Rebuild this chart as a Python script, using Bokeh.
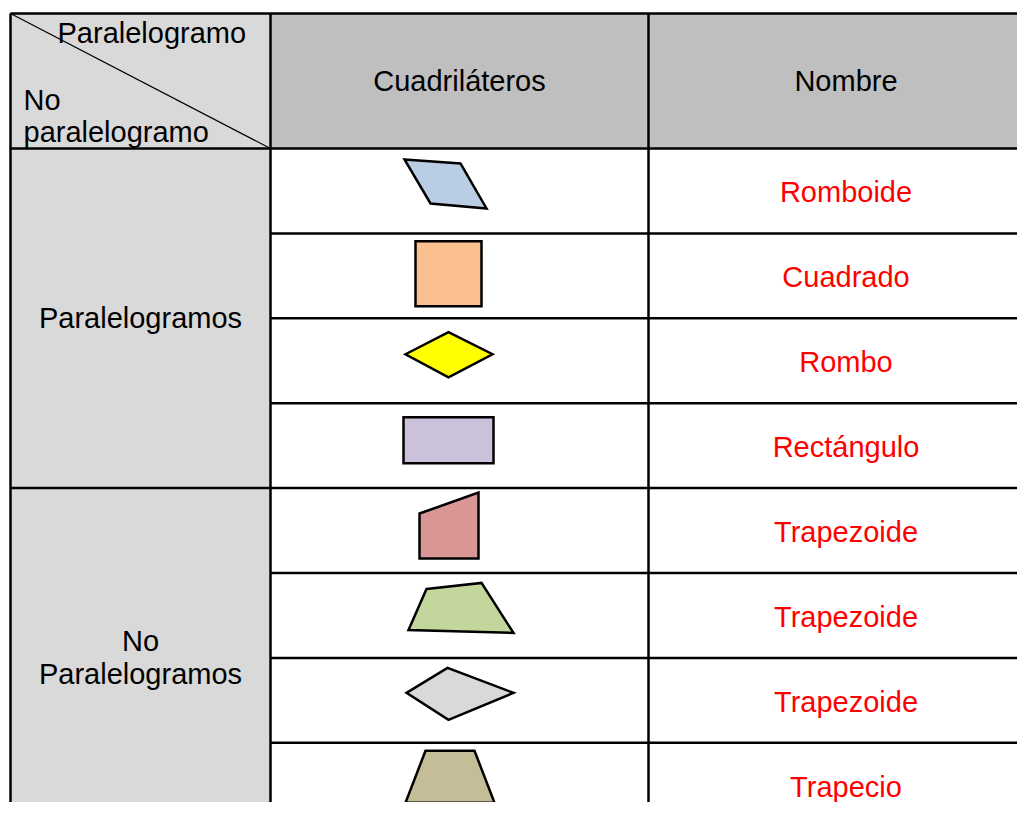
from bokeh.plotting import figure
from bokeh.models import Range1d
from bokeh.core.properties import value
from bokeh.embed import file_html
from bokeh.resources import INLINE

# ---------------- data ----------------
header_corner_top = "Paralelogramo"
header_corner_bottom = ["No", "paralelogramo"]
header_cols = ["Cuadriláteros", "Nombre"]
groups = ["Paralelogramos", "No\nParalelogramos"]
group_sizes = [4, 4]
names = ["Romboide", "Cuadrado", "Rombo", "Rectángulo",
         "Trapezoide", "Trapezoide", "Trapezoide", "Trapecio"]
shape_fills = ["#B9CDE5", "#FAC090", "#FFFF00", "#CCC1DA",
               "#D99694", "#C3D69B", "#D9D9D9", "#C4BD97"]
# vertices of each quadrilateral, relative to the centre of its cell
shape_dx = [[-55, 1, 27, -29], [-44, 22, 22, -44], [-54, -11, 33, -11], [-56, 34, 34, -56],
            [-40, 19, 19, -40], [-33, 22, 54, -51], [-53, -12, 54, -11], [-34, 15, 35, -54]]
shape_dy = [[-31.5, -27.5, 17.5, 12.5], [-34.5, -34.5, 30.5, 30.5], [-6.5, -28.5, -6.5, 16.5],
            [-28.5, -28.5, 17.5, 17.5], [-17, -38, 28, 28], [-26.5, -32.5, 17.5, 14.5],
            [-7.5, -32.5, -7.5, 19.5], [-34.5, -34.5, 17.5, 17.5]]

# ---------------- layout (pixels) ----------------
W, H = 1017, 802
X0, Y0 = 0, 0
col_x = [10, 270, 648, 1045]
head_top, head_bot = 13, 148
row_h = 84.9
row_y = [head_bot + i * row_h for i in range(len(names) + 1)]

FONT = value("Liberation Sans")
FS = "29px"

p = figure(width=W, height=H, output_backend="svg", toolbar_location=None,
           x_range=Range1d(X0, X0 + W), y_range=Range1d(Y0 + H, Y0),
           min_border=0, background_fill_color="white", border_fill_color="white")
p.axis.visible = False
p.grid.visible = False
p.outline_line_color = None

# cell fills
p.quad(left=[col_x[0], col_x[1]], right=[col_x[1], col_x[3]],
       top=[head_top, head_top], bottom=[head_bot, head_bot],
       fill_color=["#D9D9D9", "#BFBFBF"], line_color=None)
p.quad(left=[col_x[0]], right=[col_x[1]], top=[head_bot], bottom=[row_y[-1]],
       fill_color="#D9D9D9", line_color=None)

# grid lines
x0s, y0s, x1s, y1s = [], [], [], []
for y in [head_top, head_bot]:
    x0s.append(col_x[0]); x1s.append(col_x[3]); y0s.append(y); y1s.append(y)
idx = 0
for gs in group_sizes:
    for k in range(1, gs):
        y = row_y[idx + k]
        x0s.append(col_x[1]); x1s.append(col_x[3]); y0s.append(y); y1s.append(y)
    idx += gs
    y = row_y[idx]
    x0s.append(col_x[0]); x1s.append(col_x[3]); y0s.append(y); y1s.append(y)
for x in col_x[:3]:
    x0s.append(x); x1s.append(x); y0s.append(head_top); y1s.append(row_y[-1])
p.segment(x0=x0s, y0=y0s, x1=x1s, y1=y1s, line_color="black", line_width=2.5)
p.segment(x0=[col_x[0]], y0=[head_top], x1=[col_x[1]], y1=[head_bot],
          line_color="black", line_width=1.2)

# header texts
p.text(x=[57], y=[32], text=[header_corner_top], text_font=FONT, text_font_size=FS,
       text_align="left", text_baseline="middle", text_color="black")
p.text(x=[23, 23], y=[99, 131], text=header_corner_bottom, text_font=FONT, text_font_size=FS,
       text_align="left", text_baseline="middle", text_color="black")
hx = [(col_x[1] + col_x[2]) / 2, (col_x[2] + 1043) / 2]
p.text(x=hx, y=[(head_top + head_bot) / 2] * 2, text=header_cols, text_font=FONT,
       text_font_size=FS, text_align="center", text_baseline="middle", text_color="black")

# group labels
idx = 0
gx, gy, gt = [], [], []
for g, gs in zip(groups, group_sizes):
    lines = g.split("\n")
    cy = (row_y[idx] + row_y[idx + gs]) / 2
    n = len(lines)
    for i, ln in enumerate(lines):
        gx.append((col_x[0] + col_x[1]) / 2)
        gy.append(cy + (i - (n - 1) / 2) * 33)
        gt.append(ln)
    idx += gs
p.text(x=gx, y=gy, text=gt, text_font=FONT, text_font_size=FS,
       text_align="center", text_baseline="middle", text_color="black")

# names
cy_rows = [(row_y[i] + row_y[i + 1]) / 2 + 1.5 for i in range(len(names))]
p.text(x=[hx[1]] * len(names), y=cy_rows, text=names, text_font=FONT, text_font_size=FS,
       text_align="center", text_baseline="middle", text_color="#FF0000")

# shapes
cx = (col_x[1] + col_x[2]) / 2
xs = [[cx + d for d in dx] for dx in shape_dx]
ys = [[(row_y[i] + row_y[i + 1]) / 2 + d for d in dy] for i, dy in enumerate(shape_dy)]
p.patches(xs=xs, ys=ys, fill_color=shape_fills, line_color="black", line_width=2.5,
          line_join="miter")

open("out.html", "w").write(file_html(p, INLINE))
